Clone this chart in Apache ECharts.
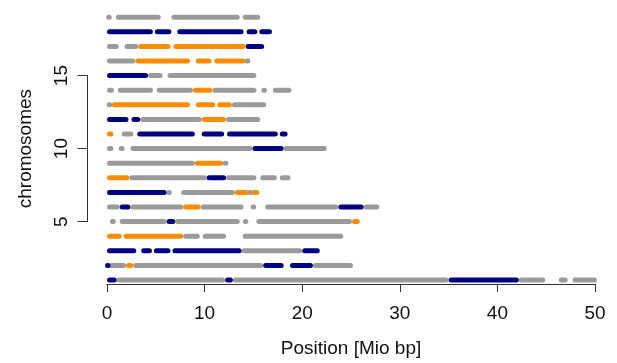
<!DOCTYPE html>
<html>
<head>
<meta charset="utf-8">
<script src="https://cdn.jsdelivr.net/npm/echarts@6/dist/echarts.min.js"></script>
<style>
  html, body { margin: 0; padding: 0; background: #fff; }
  #chart { width: 617px; height: 363px; }
</style>
</head>
<body>
<div id="chart"></div>
<script>
// runs of markers per chromosome: [chromosome, start, end] in Mio bp
const grayRuns = [
  [19, 0, 0.4], [19, 0.9, 5.5], [19, 6.6, 13.6], [19, 13.9, 15.7],
  [17, 0, 1.2], [17, 1.8, 3.2],
  [16, 0, 2.9], [16, 14.2, 14.6],
  [15, 4.2, 5.7], [15, 6.2, 15.3],
  [14, 0, 0.7], [14, 1.1, 4.7], [14, 5.1, 8.8], [14, 10.8, 15.3], [14, 16.1, 16.1], [14, 17.0, 18.9],
  [13, 0, 0.5], [13, 12.8, 16.3],
  [12, 3.4, 9.7], [12, 12.2, 15.7],
  [11, 1.5, 2.7],
  [10, 0, 0.65], [10, 1.2, 1.8], [10, 2.4, 14.9], [10, 18.1, 22.5],
  [9, 0, 9.0], [9, 11.9, 12.4],
  [8, 2.3, 10.2], [8, 12.2, 15.3], [8, 15.7, 17.4], [8, 17.7, 18.8],
  [7, 6.1, 6.6], [7, 7.6, 13.1], [7, 14.5, 14.8],
  [6, 0, 1.3], [6, 2.4, 7.8], [6, 9.6, 14.0], [6, 15.0, 15.0], [6, 16.2, 23.7], [6, 26.3, 27.9],
  [5, 0.3, 0.9], [5, 1.3, 6.1], [5, 7.0, 13.6], [5, 14.2, 14.2], [5, 15.3, 25.1],
  [4, 7.8, 9.5], [4, 9.8, 12.2], [4, 13.9, 24.2],
  [3, 13.8, 20.0],
  [2, 0.15, 1.95], [2, 2.7, 16.0], [2, 21.1, 25.2],
  [1, 1.0, 12.1], [1, 12.9, 35.0], [1, 42.2, 44.9], [1, 46.3, 47.2], [1, 47.7, 50.2]
];
const navyRuns = [
  [18, 0, 4.7], [18, 4.9, 6.6], [18, 7.2, 14.0], [18, 14.3, 15.4], [18, 15.6, 16.9],
  [17, 14.2, 16.1],
  [15, 0, 4.2],
  [12, 0, 2.2], [12, 2.5, 3.4],
  [11, 3.1, 9.0], [11, 9.7, 12.0], [11, 12.3, 17.5], [11, 17.7, 18.5],
  [10, 14.9, 18.1],
  [8, 10.2, 12.2],
  [7, 0, 6.1],
  [6, 1.3, 2.4], [6, 23.7, 26.3],
  [5, 6.1, 7.0],
  [3, 0, 3.0], [3, 3.5, 4.6], [3, 4.8, 6.5], [3, 6.7, 13.8], [3, 20.0, 21.8],
  [2, 0, 0.15], [2, 16.0, 18.1], [2, 18.75, 21.1],
  [1, 0, 1.0], [1, 12.1, 12.9], [1, 35.0, 42.2]
];
const orangeRuns = [
  [17, 3.2, 6.5], [17, 6.8, 14.2],
  [16, 2.9, 8.5], [16, 9.1, 10.7], [16, 11.0, 14.2],
  [14, 8.8, 10.8],
  [13, 0.5, 8.5], [13, 9.1, 11.1], [13, 11.3, 12.8],
  [12, 9.7, 12.2],
  [11, 0, 0.65],
  [9, 9.0, 11.9],
  [8, 0, 2.3],
  [7, 13.1, 14.5], [7, 14.8, 15.6],
  [6, 7.8, 9.6],
  [5, 25.1, 25.9],
  [4, 0, 1.5], [4, 1.7, 7.8],
  [2, 1.95, 2.7]
];
const xTicks = [0, 10, 20, 30, 40, 50];
const yTicks = [5, 10, 15];

const font = "Liberation Sans, Arial, sans-serif";
const chart = echarts.init(document.getElementById("chart"));

function runSeries(name, runs, color) {
  return {
    name: name,
    type: "custom",
    xAxisIndex: 0,
    yAxisIndex: 0,
    data: runs,
    encode: { x: [1, 2], y: 0 },
    renderItem: function (params, api) {
      const a = api.coord([api.value(1), api.value(0)]);
      const b = api.coord([api.value(2), api.value(0)]);
      const r = 2.5;
      let x1 = a[0] + r, x2 = b[0] - r;
      if (x2 - x1 < 0.5) {
        const m = (a[0] + b[0]) / 2;
        x1 = m - 0.25; x2 = m + 0.25;
      }
      return {
        type: "line",
        shape: { x1: x1, y1: a[1], x2: x2, y2: b[1] },
        style: { stroke: color, lineWidth: 5, lineCap: "round" }
      };
    }
  };
}

chart.setOption({
  animation: false,
  backgroundColor: "#fff",
  grid: [
    { left: 87.5, right: 2.5, top: 6.7, bottom: 72.5 },
    { left: 107, right: 22, top: 6.7, bottom: 71 },
    { left: 87.5, width: 10, top: 75.6, bottom: 141.4 }
  ],
  xAxis: [
    { gridIndex: 0, type: "value", min: -2, max: 52, show: false },
    {
      gridIndex: 1, type: "value", min: xTicks[0], max: xTicks[xTicks.length - 1], interval: 10,
      axisLine: { lineStyle: { color: "#333", width: 1 } },
      axisTick: { length: 8, lineStyle: { color: "#333" } },
      splitLine: { show: false },
      axisLabel: { color: "#111", fontSize: 19, fontFamily: font, margin: 20 },
      name: "Position [Mio bp]", nameLocation: "middle", nameGap: 55,
      nameTextStyle: { color: "#111", fontSize: 19, fontFamily: font }
    },
    { gridIndex: 2, type: "value", show: false }
  ],
  yAxis: [
    { gridIndex: 0, type: "value", min: 0.28, max: 19.72, show: false },
    { gridIndex: 1, type: "value", show: false },
    {
      gridIndex: 2, type: "value", min: yTicks[0], max: yTicks[yTicks.length - 1], interval: 5,
      axisLine: { show: true, lineStyle: { color: "#333", width: 1 } },
      axisTick: { show: true, length: 10, lineStyle: { color: "#333" } },
      splitLine: { show: false },
      axisLabel: { color: "#111", fontSize: 19, fontFamily: font, rotate: 90, margin: 16 },
      name: "chromosomes", nameLocation: "middle", nameGap: 52, nameRotate: 90,
      nameTextStyle: { color: "#111", fontSize: 19, fontFamily: font }
    }
  ],
  series: [
    runSeries("gray", grayRuns, "#9a9a9a"),
    runSeries("navy", navyRuns, "#000080"),
    runSeries("orange", orangeRuns, "#ff8c00")
  ]
});
</script>
</body>
</html>
